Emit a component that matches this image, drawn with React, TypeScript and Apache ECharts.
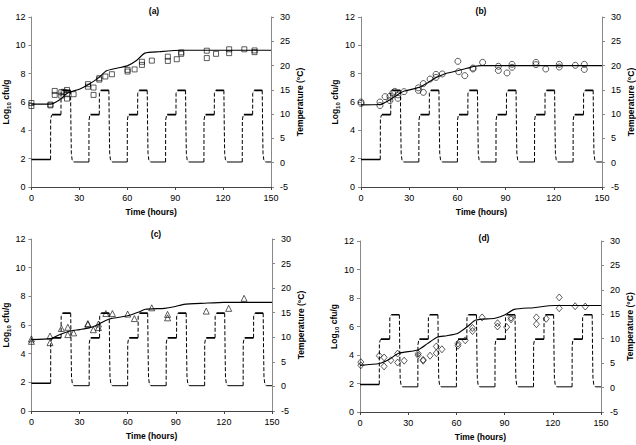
import { useEffect, useRef } from "react";
import * as echarts from "echarts";

// ---------- data ----------
const panelTitles = ["(a)", "(b)", "(c)", "(d)"];
const timeRange = [0, 150];
const logRange = [0, 12];
const tempRange = [-5, 30];

// observed log10 cfu/g [time h, value]
const obsA = [
  [0, 5.93], [0, 5.72], [11.9, 5.82], [11.9, 5.76], [14.6, 6.78], [14.6, 6.5],
  [18.7, 6.69], [18.7, 6.45], [20.2, 6.72], [22.3, 6.85], [22.3, 6.55], [22.3, 6.24],
  [26.4, 6.55], [35.4, 7.26], [35.4, 7.08], [38.9, 7.02], [38.9, 6.5], [42.5, 7.68],
  [42.5, 7.58], [46.3, 7.8], [50.4, 7.96], [60.2, 8.27], [60.2, 8.15], [64.6, 8.3],
  [69.2, 8.84], [69.2, 8.62], [75.4, 8.92], [85.4, 9.2], [85.4, 8.9], [91, 9.02],
  [93.8, 9.5], [93.8, 9.4], [109.8, 9.62], [109.8, 9.1], [115.6, 9.4], [123.8, 9.72],
  [123.8, 9.45], [133.3, 9.72], [139.7, 9.64], [139.7, 9.52],
];
const obsB = [
  [0, 6.0], [0, 5.9], [11.8, 6.0], [11.8, 5.75], [15, 6.38], [18, 6.1], [18, 6.4],
  [19.7, 6.63], [21, 6.75], [23, 6.5], [23, 6.26], [26.8, 6.73], [35.7, 7.0], [35.7, 6.82],
  [38.8, 7.3], [38.8, 6.68], [43, 7.62], [46.7, 7.95], [46.7, 7.74], [50.6, 7.98],
  [60.3, 8.87], [60.8, 8.14], [64.6, 7.86], [69.7, 8.4], [69.7, 8.33], [75.7, 8.8],
  [85.5, 8.52], [85.5, 8.23], [90.9, 8.05], [94, 8.66], [94, 8.45], [108.9, 8.8],
  [108.9, 8.64], [115, 8.33], [123.4, 8.66], [123.4, 8.47], [133.4, 8.59], [139, 8.66],
  [139, 8.3],
];
const obsC = [
  [0, 5.03], [0, 4.86], [11.6, 5.23], [11.6, 4.77], [18.7, 5.76], [22.7, 5.84],
  [22.7, 5.33], [26.3, 5.45], [35.2, 6.1], [35.2, 6.05], [38.6, 5.67], [41.8, 6.07],
  [41.8, 5.82], [46.4, 6.8], [50.5, 6.8], [60, 6.76], [64.2, 6.45], [75, 7.2],
  [84.9, 6.74], [84.9, 6.5], [109, 6.97], [123, 7.16], [132.6, 7.86],
];
const obsD = [
  [0.5, 3.5], [0.5, 3.28], [12, 3.95], [15, 3.83], [15, 3.2], [19.2, 3.63], [23.4, 4.1],
  [23.4, 3.47], [27.5, 3.6], [36.2, 4.1], [36.2, 3.98], [39.3, 3.66], [39.3, 3.6],
  [43.6, 3.95], [47.5, 4.6], [47.5, 4.13], [51, 4.4], [61, 4.8], [61, 4.65], [65.5, 5.03],
  [70, 5.9], [70, 5.68], [76, 6.64], [85.6, 6.23], [85.6, 6.0], [91.3, 5.96], [94, 6.62],
  [94, 6.5], [109.8, 6.64], [109.8, 6.16], [115.9, 6.54], [124, 8.04], [124, 7.28],
  [133.9, 7.42], [140.2, 7.4],
];

// predicted log10 cfu/g [time h, value]
const modelA = [
  [0, 5.85], [12, 5.85], [17, 6.1], [23, 6.65], [30, 6.9], [36, 7.25], [42, 7.7],
  [47, 8.2], [54, 8.4], [60, 8.55], [66, 8.95], [71, 9.45], [80, 9.55], [94, 9.65], [150, 9.65],
];
const modelB = [
  [0, 5.8], [12, 5.82], [18, 6.15], [24, 6.6], [27, 6.77], [36, 7.02], [42, 7.4],
  [47, 7.74], [52, 7.98], [60, 8.2], [66, 8.38], [70, 8.5], [75, 8.57], [150, 8.57],
];
const modelC = [
  [0, 4.98], [12, 5.05], [17, 5.3], [23, 5.55], [30, 5.68], [36, 5.8], [41, 6.0],
  [46, 6.3], [50, 6.46], [60, 6.64], [67, 6.9], [71, 7.1], [83, 7.16], [89, 7.27],
  [95, 7.44], [108, 7.52], [120, 7.58], [150, 7.58],
];
const modelD = [
  [0, 3.27], [12, 3.4], [18, 3.68], [24, 4.12], [36, 4.35], [42, 4.8], [48, 5.25],
  [54, 5.35], [61, 5.53], [67, 6.0], [72, 6.45], [84, 6.58], [90, 6.8], [96, 7.2],
  [108, 7.32], [121, 7.47], [150, 7.47],
];

// temperature plateaus [start h, end h, °C]
const tempPlateaus = [
  [0, 12, 0.65], [13, 18.5, 9.9], [19.5, 24.5, 14.9],
  [26.5, 36, 0.15], [37, 42.5, 9.9], [43.5, 48.5, 14.9],
  [50.5, 60, 0.15], [61, 66.5, 9.9], [67.5, 72.5, 14.9],
  [74.5, 84, 0.15], [85, 90.5, 9.9], [91.5, 96.5, 14.9],
  [98.5, 108, 0.15], [109, 114.5, 9.9], [115.5, 120.5, 14.9],
  [122.5, 132, 0.15], [133, 138.5, 9.9], [139.5, 144.5, 14.9],
  [146.5, 150, 0.15],
];
// transition shapes [fraction of time gap, fraction of temperature change]
const riseShape = [[0, 0], [0.06, 0.88], [0.5, 0.97], [1, 1]];
const dropShape = [[0, 0], [0.12, 0.5], [0.25, 0.88], [0.5, 0.97], [1, 1]];

const observed = [obsA, obsB, obsC, obsD];
const models = [modelA, modelB, modelC, modelD];
const symbols = ["rect", "circle", "triangle", "diamond"];
const symbolSizes = [5, 6, 6, [6, 7]];

// ---------- layout ----------
const grids = [
  { left: 31, top: 17, width: 240, height: 170 },
  { left: 361, top: 17, width: 241, height: 170 },
  { left: 31, top: 239, width: 241, height: 172 },
  { left: 360, top: 241, width: 241, height: 171 },
];
const titlePos = [
  { left: 149, top: 1 },
  { left: 476, top: 1 },
  { left: 151, top: 224 },
  { left: 479, top: 228 },
];

const FONT = "'Liberation Sans', Arial, sans-serif";

function buildTemp() {
  const solid: any[][] = [];
  const dashed: any[][] = [];
  tempPlateaus.forEach(([s, e, T], i) => {
    solid.push([[s, T], [e, T]]);
    const next = tempPlateaus[i + 1];
    if (next) {
      const ns = next[0];
      const nT = next[2];
      const shape = nT > T ? riseShape : dropShape;
      dashed.push(shape.map(([f, g]) => [e + f * (ns - e), T + g * (nT - T)]));
    }
  });
  return { solid, dashed };
}

export default function App() {
  const ref = useRef<HTMLDivElement>(null);
  useEffect(() => {
    if (!ref.current) return;
    const chart = echarts.init(ref.current, undefined, { renderer: "svg" });
    const { solid, dashed } = buildTemp();

    const xAxis: any[] = [];
    const yAxis: any[] = [];
    const series: any[] = [];
    grids.forEach((_, i) => {
      xAxis.push({
        type: "value",
        gridIndex: i,
        min: timeRange[0],
        max: timeRange[1],
        interval: 30,
        name: "Time (hours)",
        nameLocation: "middle",
        nameGap: 20,
        nameTextStyle: { fontFamily: FONT, fontWeight: "bold", fontSize: 8.5, color: "#000", verticalAlign: "top" },
        axisLine: { lineStyle: { color: "#444", width: 1 } },
        axisTick: { show: true, length: 3, lineStyle: { color: "#444" } },
        axisLabel: { fontFamily: FONT, fontSize: 9, color: "#000", margin: 6 },
        splitLine: { show: false },
      });
      yAxis.push({
        type: "value",
        gridIndex: i,
        position: "left",
        min: logRange[0],
        max: logRange[1],
        interval: 2,
        name: "{a|Log}{s|10}{a| cfu/g}",
        nameLocation: "middle",
        nameGap: 18,
        nameTextStyle: {
          fontFamily: FONT,
          color: "#000",
          rich: {
            a: { fontFamily: FONT, fontWeight: "bold", fontSize: 8.5, lineHeight: 12, verticalAlign: "middle", color: "#000" },
            s: { fontFamily: FONT, fontWeight: "bold", fontSize: 6, lineHeight: 12, verticalAlign: "bottom", color: "#000" },
          },
        },
        axisLine: { show: true, lineStyle: { color: "#888", width: 1 } },
        axisTick: { show: true, length: 3, lineStyle: { color: "#888" } },
        axisLabel: { fontFamily: FONT, fontSize: 9, color: "#000", margin: 6 },
        splitLine: { show: false },
      });
      yAxis.push({
        type: "value",
        gridIndex: i,
        position: "right",
        min: tempRange[0],
        max: tempRange[1],
        interval: 5,
        name: "Temperature (°C)",
        nameLocation: "middle",
        nameGap: 24,
        nameTextStyle: { fontFamily: FONT, fontWeight: "bold", fontSize: 8.5, color: "#000" },
        axisLine: { show: true, lineStyle: { color: "#888", width: 1 } },
        axisTick: { show: true, length: 3, lineStyle: { color: "#888" } },
        axisLabel: { fontFamily: FONT, fontSize: 9, color: "#000", margin: 9 },
        splitLine: { show: false },
      });
      solid.forEach((seg, k) =>
        series.push({
          type: "line",
          name: "temperature plateau",
          xAxisIndex: i,
          yAxisIndex: 2 * i + 1,
          data: seg,
          showSymbol: false,
          symbol: "none",
          lineStyle: { color: "#000", width: seg[0][1] > 5 ? 1.7 : k === 0 ? 1.5 : 1 },
          silent: true,
          z: 1,
        })
      );
      dashed.forEach((seg) =>
        series.push({
          type: "line",
          name: "temperature change",
          xAxisIndex: i,
          yAxisIndex: 2 * i + 1,
          data: seg,
          showSymbol: false,
          symbol: "none",
          lineStyle: { color: "#000", width: 1, type: [4, 2] },
          silent: true,
          z: 1,
        })
      );
      series.push({
        type: "line",
        name: "predicted",
        xAxisIndex: i,
        yAxisIndex: 2 * i,
        data: models[i],
        showSymbol: false,
        symbol: "none",
        smooth: 0.2,
        lineStyle: { color: "#000", width: 1.1 },
        silent: true,
        z: 2,
      });
      series.push({
        type: "scatter",
        name: "observed",
        xAxisIndex: i,
        yAxisIndex: 2 * i,
        data: observed[i],
        symbol: symbols[i],
        symbolSize: symbolSizes[i],
        itemStyle: { color: "rgba(255,255,255,0)", borderColor: "#000", borderWidth: 0.8 },
        silent: true,
        z: 3,
      });
    });

    chart.setOption({
      animation: false,
      backgroundColor: "#fff",
      title: panelTitles.map((t, i) => ({
        text: t,
        left: titlePos[i].left,
        top: titlePos[i].top,
        textAlign: "center",
        textStyle: { fontFamily: FONT, fontWeight: "bold", fontSize: 8.5, color: "#000" },
      })),
      grid: grids.map((g) => ({ ...g, containLabel: false })),
      xAxis,
      yAxis,
      series,
    });
    return () => chart.dispose();
  }, []);
  return (
    <div
      ref={ref}
      style={{ position: "absolute", left: 0, top: 0, width: 636, height: 445, background: "#fff" }}
    />
  );
}
